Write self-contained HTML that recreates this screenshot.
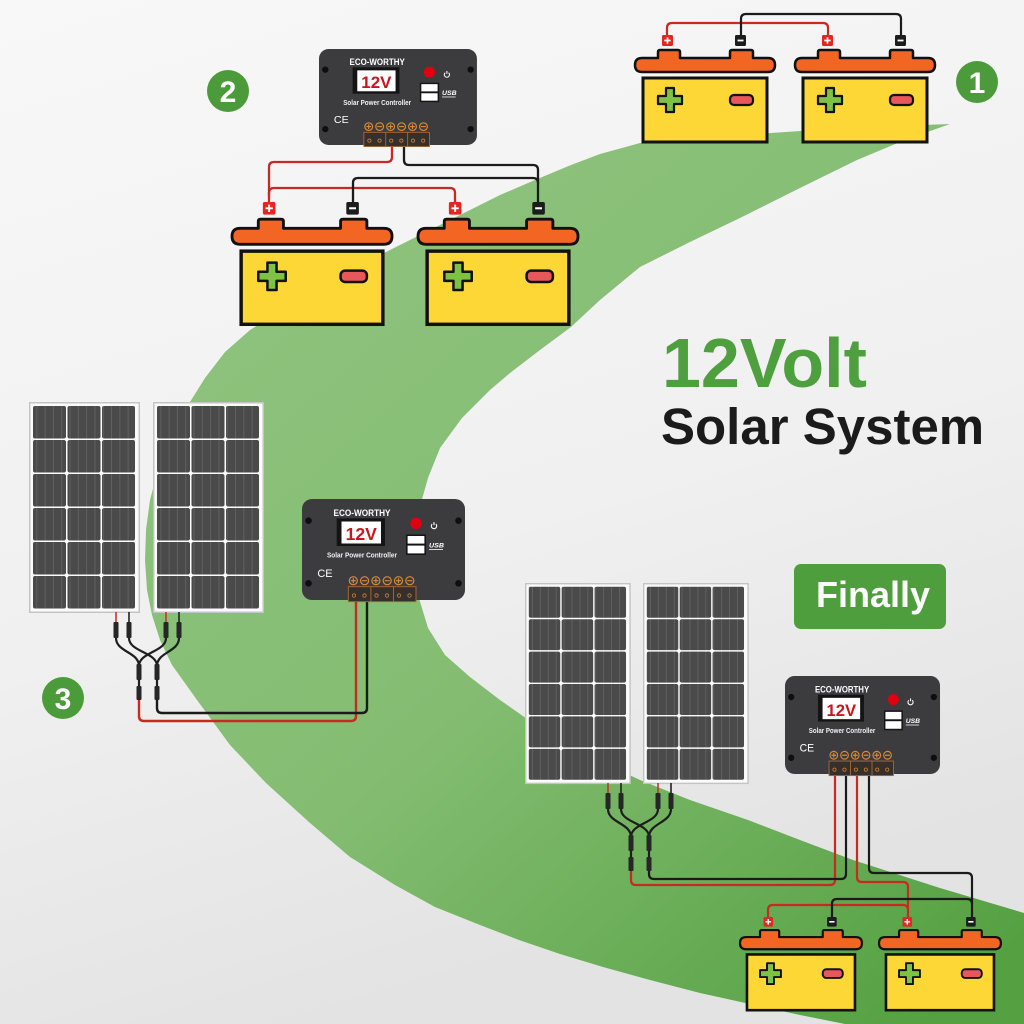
<!DOCTYPE html>
<html><head><meta charset="utf-8"><style>
html,body{margin:0;padding:0;width:1024px;height:1024px;overflow:hidden;background:#f2f2f2}
svg{display:block}
text{font-family:"Liberation Sans",Arial,sans-serif}
</style></head><body>
<svg width="1024" height="1024" viewBox="0 0 1024 1024" xmlns="http://www.w3.org/2000/svg">
<defs>
<linearGradient id="bg" x1="0" y1="0" x2="0.3" y2="1">
<stop offset="0" stop-color="#f8f8f8"/><stop offset="0.6" stop-color="#f0f0f0"/><stop offset="1" stop-color="#e3e3e3"/>
</linearGradient>
<linearGradient id="gr" gradientUnits="userSpaceOnUse" x1="300" y1="250" x2="950" y2="1000">
<stop offset="0" stop-color="#8dc27c"/><stop offset="0.45" stop-color="#84bd72"/><stop offset="1" stop-color="#55a142"/>
</linearGradient>
<pattern id="cellp" patternUnits="userSpaceOnUse" width="8.3" height="10">
<rect width="8.3" height="10" fill="#4a4a4a"/><rect x="7.4" width="0.9" height="10" fill="#626262"/>
</pattern>
<g id="bat">
<rect x="27" y="0" width="11" height="11" rx="1.5" fill="#e42521"/>
<path d="M32.5,2.3v6.4M29.3,5.5h6.4" stroke="#fff" stroke-width="1.7"/>
<rect x="100" y="0" width="11" height="11" rx="1.5" fill="#1c1c1c"/>
<path d="M102.5,5.5h6" stroke="#fff" stroke-width="1.8"/>
<path d="M7,23 L23,23 L23,17 Q23,15 25,15 L43,15 Q45,15 45,17 L45,23 L95,23 L95,17 Q95,15 97,15 L116,15 Q118,15 118,17 L118,23 L133,23 Q140,23 140,30 Q140,37 133,37 L7,37 Q0,37 0,30 Q0,23 7,23 Z" fill="#f26522" stroke="#111" stroke-width="2.5" stroke-linejoin="round"/>
<rect x="8" y="43" width="124" height="64" fill="#fcd735" stroke="#111" stroke-width="3"/>
<path d="M31,53 h8 v8 h8 v8 h-8 v8 h-8 v-8 h-8 v-8 h8 z" fill="#7dc243" stroke="#111" stroke-width="2.2" stroke-linejoin="round"/>
<rect x="95" y="60" width="23" height="10" rx="4" fill="#e8585a" stroke="#111" stroke-width="2.2"/>
</g>
<g id="panel">
<rect x="0.75" y="0.75" width="109.5" height="209.5" fill="#fbfbfb" stroke="#c4c4c4" stroke-width="1.5"/>
<g fill="url(#cellp)">
<rect x="4" y="4" width="33" height="32.5" rx="2"/><rect x="38.5" y="4" width="33" height="32.5" rx="2"/><rect x="73" y="4" width="33" height="32.5" rx="2"/>
<rect x="4" y="38" width="33" height="32.5" rx="2"/><rect x="38.5" y="38" width="33" height="32.5" rx="2"/><rect x="73" y="38" width="33" height="32.5" rx="2"/>
<rect x="4" y="72" width="33" height="32.5" rx="2"/><rect x="38.5" y="72" width="33" height="32.5" rx="2"/><rect x="73" y="72" width="33" height="32.5" rx="2"/>
<rect x="4" y="106" width="33" height="32.5" rx="2"/><rect x="38.5" y="106" width="33" height="32.5" rx="2"/><rect x="73" y="106" width="33" height="32.5" rx="2"/>
<rect x="4" y="140" width="33" height="32.5" rx="2"/><rect x="38.5" y="140" width="33" height="32.5" rx="2"/><rect x="73" y="140" width="33" height="32.5" rx="2"/>
<rect x="4" y="174" width="33" height="32.5" rx="2"/><rect x="38.5" y="174" width="33" height="32.5" rx="2"/><rect x="73" y="174" width="33" height="32.5" rx="2"/>
</g>
<g fill="#fff">
<circle cx="37.75" cy="37.25" r="1.9"/><circle cx="72.25" cy="37.25" r="1.9"/>
<circle cx="37.75" cy="71.25" r="1.9"/><circle cx="72.25" cy="71.25" r="1.9"/>
<circle cx="37.75" cy="105.25" r="1.9"/><circle cx="72.25" cy="105.25" r="1.9"/>
<circle cx="37.75" cy="139.25" r="1.9"/><circle cx="72.25" cy="139.25" r="1.9"/>
<circle cx="37.75" cy="173.25" r="1.9"/><circle cx="72.25" cy="173.25" r="1.9"/>
</g>
</g>
<g id="cabL">
<path d="M116,612V623M166,612V623" stroke="#c0392b" stroke-width="1.6"/>
<path d="M129,612V623M179,612V623" stroke="#222" stroke-width="1.6"/>
<g fill="#262626">
<rect x="113.5" y="622" width="5" height="16" rx="1"/><rect x="126.5" y="622" width="5" height="16" rx="1"/>
<rect x="163.5" y="622" width="5" height="16" rx="1"/><rect x="176.5" y="622" width="5" height="16" rx="1"/>
</g>
<g fill="none" stroke="#1e1e1e" stroke-width="2.2">
<path d="M116,638 C116,652 139,652 139,666"/>
<path d="M166,638 C166,652 139,652 139,666"/>
<path d="M129,638 C129,652 157,652 157,666"/>
<path d="M179,638 C179,652 157,652 157,666"/>
<path d="M139,678V688M157,678V688"/>
</g>
<g fill="#262626">
<rect x="136.5" y="664" width="5" height="16" rx="1"/><rect x="154.5" y="664" width="5" height="16" rx="1"/>
<rect x="136.5" y="686" width="5" height="14" rx="1"/><rect x="154.5" y="686" width="5" height="14" rx="1"/>
</g>
</g>
</defs>

<rect width="1024" height="1024" fill="url(#bg)"/>

<polygon fill="url(#gr)" points="950,124 870,127 800,131 700,138 640,143 600,154 571,165 535,180 500,195 440,225 404,243 370,260 340,278 285,308 250,330 225,352 205,378 185,410 170,440 158,470 150,500 146,530 145,560 147,590 152,615 160,640 172,665 197,700 230,745 266,783 310,823 350,857 395,885 435,907 480,925 519,940 560,954 603,967 650,980 700,993 750,1004 800,1015 845,1024 1024,1024 1024,913 940,888 853,860 800,840 748,820 690,800 640,780 580,752 533,723 500,700 470,677 445,655 428,628 418,595 415,555 419,510 428,478 440,448 462,418 490,390 510,373 540,350 571,327 600,300 640,267 690,242 740,218 800,188 857,160 905,140 950,124"/>

<!-- number circles -->
<circle cx="977" cy="82" r="21" fill="#4c9b3a"/>
<text x="977" y="93" font-size="30" font-weight="bold" fill="#fff" text-anchor="middle">1</text>
<circle cx="228" cy="91" r="21" fill="#4c9b3a"/>
<text x="228" y="102" font-size="30" font-weight="bold" fill="#fff" text-anchor="middle">2</text>
<circle cx="63" cy="698" r="21" fill="#4c9b3a"/>
<text x="63" y="709" font-size="30" font-weight="bold" fill="#fff" text-anchor="middle">3</text>

<!-- title -->
<text x="662" y="387" font-size="70" font-weight="bold" fill="#4e9f3d">12Volt</text>
<text x="661" y="444" font-size="51" font-weight="bold" fill="#1b1b1b">Solar System</text>

<!-- Finally -->
<rect x="794" y="564" width="152" height="65" rx="7" fill="#4e9e3d"/>
<text x="873" y="607" font-size="36" font-weight="bold" fill="#fff" text-anchor="middle">Finally</text>

<!-- set 1 wires -->
<g fill="none" stroke-width="2.2">
<path d="M667,36 L667,28 Q667,23 672,23 L823,23 Q828,23 828,28 L828,36" stroke="#c62a20"/>
<path d="M741,36 L741,19 Q741,14 746,14 L896,14 Q901,14 901,19 L901,36" stroke="#1b1b1b"/>
</g>
<use href="#bat" transform="translate(635,35)"/>
<use href="#bat" transform="translate(795,35)"/>

<!-- set 2 wires -->
<g fill="none" stroke-width="2.3">
<path d="M392,140 L392,157 Q392,162 387,162 L274,162 Q269,162 269,167 L269,205" stroke="#c62a20"/>
<path d="M269,196 L269,193 Q269,188 274,188 L450,188 Q455,188 455,193 L455,205" stroke="#c62a20"/>
<path d="M404,140 L404,160 Q404,165 409,165 L533,165 Q538,165 538,170 L538,205" stroke="#1b1b1b"/>
<path d="M353,205 L353,183 Q353,178 358,178 L533,178 Q538,178 538,183" stroke="#1b1b1b"/>
</g>
<use href="#bat" transform="translate(232,202) scale(1.143)"/>
<use href="#bat" transform="translate(418,202) scale(1.143)"/>

<!-- top controller -->
<g transform="translate(319,49) scale(0.969,0.95)">
<rect width="163" height="101" rx="10" fill="#3c3c3e"/>
<g fill="#0e0e0e"><circle cx="6.5" cy="21.7" r="3.3"/><circle cx="156.5" cy="21.7" r="3.3"/><circle cx="6.5" cy="84.3" r="3.3"/><circle cx="156.5" cy="84.3" r="3.3"/></g>
<text x="60" y="17" font-size="9.3" font-weight="bold" fill="#fff" text-anchor="middle" textLength="57" lengthAdjust="spacingAndGlyphs">ECO-WORTHY</text>
<rect x="34.7" y="19.3" width="48.3" height="27.7" fill="#141414"/>
<rect x="39.5" y="22.5" width="39.5" height="22" fill="#fff"/>
<text x="59.2" y="41" font-size="17.5" font-weight="bold" fill="#c8161d" text-anchor="middle">12V</text>
<text x="60" y="58.7" font-size="7.3" font-weight="bold" fill="#f0f0f0" text-anchor="middle" textLength="70" lengthAdjust="spacingAndGlyphs">Solar Power Controller</text>
<circle cx="114" cy="24.3" r="5.7" fill="#e10010"/>
<path d="M130.2,25 A2.7,2.7 0 1 0 133.8,25" fill="none" stroke="#fff" stroke-width="1.1"/><path d="M132,23.1v3" stroke="#fff" stroke-width="1.1"/>
<rect x="104" y="35.5" width="20" height="20.5" fill="#151515"/><rect x="105.6" y="37" width="16.8" height="7.6" fill="#fff"/><rect x="105.6" y="46.6" width="16.8" height="7.8" fill="#fff"/>
<text x="127" y="48.5" font-size="6.5" font-weight="bold" font-style="italic" fill="#fff" textLength="15" lengthAdjust="spacingAndGlyphs">USB</text>
<path d="M127,50.5h14" stroke="#fff" stroke-width="0.8"/>
<text x="23" y="78" font-size="11" fill="#fff" text-anchor="middle">CE</text>
<g fill="none" stroke="#d68a3c" stroke-width="1.2">
<circle cx="51.3" cy="81.7" r="4"/><circle cx="62.6" cy="81.7" r="4"/><circle cx="73.9" cy="81.7" r="4"/><circle cx="85.2" cy="81.7" r="4"/><circle cx="96.5" cy="81.7" r="4"/><circle cx="107.8" cy="81.7" r="4"/>
<path d="M48.8,81.7h5M51.3,79.2v5M60.1,81.7h5M71.4,81.7h5M73.9,79.2v5M82.7,81.7h5M94,81.7h5M96.5,79.2v5M105.3,81.7h5"/>
</g>
<rect x="46.3" y="87.7" width="67.7" height="15" fill="#35302c" stroke="#b06a35" stroke-width="0.9"/>
<path d="M68.9,87.7v15M91.5,87.7v15" stroke="#b06a35" stroke-width="0.9"/>
<g fill="none" stroke="#c98242" stroke-width="0.8"><circle cx="52" cy="96.5" r="1.7"/><circle cx="62.5" cy="96.5" r="1.7"/><circle cx="74.5" cy="96.5" r="1.7"/><circle cx="85" cy="96.5" r="1.7"/><circle cx="97" cy="96.5" r="1.7"/><circle cx="107.5" cy="96.5" r="1.7"/></g>
</g>

<!-- left panels -->
<use href="#panel" transform="translate(29,402)"/>
<use href="#panel" transform="translate(153,402)"/>
<use href="#cabL"/>
<g fill="none" stroke-width="2.4">
<path d="M139,700 L139,716 Q139,721 144,721 L351,721 Q356,721 356,716 L356,598" stroke="#c62a20"/>
<path d="M157,700 L157,708 Q157,713 162,713 L362,713 Q367,713 367,708 L367,598" stroke="#1b1b1b"/>
</g>

<!-- middle controller -->
<g transform="translate(302,499)">
<rect width="163" height="101" rx="10" fill="#3c3c3e"/>
<g fill="#0e0e0e"><circle cx="6.5" cy="21.7" r="3.3"/><circle cx="156.5" cy="21.7" r="3.3"/><circle cx="6.5" cy="84.3" r="3.3"/><circle cx="156.5" cy="84.3" r="3.3"/></g>
<text x="60" y="17" font-size="9.3" font-weight="bold" fill="#fff" text-anchor="middle" textLength="57" lengthAdjust="spacingAndGlyphs">ECO-WORTHY</text>
<rect x="34.7" y="19.3" width="48.3" height="27.7" fill="#141414"/>
<rect x="39.5" y="22.5" width="39.5" height="22" fill="#fff"/>
<text x="59.2" y="41" font-size="17.5" font-weight="bold" fill="#c8161d" text-anchor="middle">12V</text>
<text x="60" y="58.7" font-size="7.3" font-weight="bold" fill="#f0f0f0" text-anchor="middle" textLength="70" lengthAdjust="spacingAndGlyphs">Solar Power Controller</text>
<circle cx="114" cy="24.3" r="5.7" fill="#e10010"/>
<path d="M130.2,25 A2.7,2.7 0 1 0 133.8,25" fill="none" stroke="#fff" stroke-width="1.1"/><path d="M132,23.1v3" stroke="#fff" stroke-width="1.1"/>
<rect x="104" y="35.5" width="20" height="20.5" fill="#151515"/><rect x="105.6" y="37" width="16.8" height="7.6" fill="#fff"/><rect x="105.6" y="46.6" width="16.8" height="7.8" fill="#fff"/>
<text x="127" y="48.5" font-size="6.5" font-weight="bold" font-style="italic" fill="#fff" textLength="15" lengthAdjust="spacingAndGlyphs">USB</text>
<path d="M127,50.5h14" stroke="#fff" stroke-width="0.8"/>
<text x="23" y="78" font-size="11" fill="#fff" text-anchor="middle">CE</text>
<g fill="none" stroke="#d68a3c" stroke-width="1.2">
<circle cx="51.3" cy="81.7" r="4"/><circle cx="62.6" cy="81.7" r="4"/><circle cx="73.9" cy="81.7" r="4"/><circle cx="85.2" cy="81.7" r="4"/><circle cx="96.5" cy="81.7" r="4"/><circle cx="107.8" cy="81.7" r="4"/>
<path d="M48.8,81.7h5M51.3,79.2v5M60.1,81.7h5M71.4,81.7h5M73.9,79.2v5M82.7,81.7h5M94,81.7h5M96.5,79.2v5M105.3,81.7h5"/>
</g>
<rect x="46.3" y="87.7" width="67.7" height="15" fill="#35302c" stroke="#b06a35" stroke-width="0.9"/>
<path d="M68.9,87.7v15M91.5,87.7v15" stroke="#b06a35" stroke-width="0.9"/>
<g fill="none" stroke="#c98242" stroke-width="0.8"><circle cx="52" cy="96.5" r="1.7"/><circle cx="62.5" cy="96.5" r="1.7"/><circle cx="74.5" cy="96.5" r="1.7"/><circle cx="85" cy="96.5" r="1.7"/><circle cx="97" cy="96.5" r="1.7"/><circle cx="107.5" cy="96.5" r="1.7"/></g>
</g>

<!-- bottom right panels -->
<use href="#panel" transform="translate(525,583) scale(0.953)"/>
<use href="#panel" transform="translate(643,583) scale(0.953)"/>
<use href="#cabL" transform="translate(492,171)"/>

<!-- bottom right wires -->
<g fill="none" stroke-width="2.2">
<path d="M631,871 L631,880 Q631,885 636,885 L830,885 Q835,885 835,880 L835,772" stroke="#c62a20"/>
<path d="M649,871 L649,874 Q649,879 654,879 L841,879 Q846,879 846,874 L846,772" stroke="#1b1b1b"/>
<path d="M857,772 L857,877 Q857,882 862,882 L903,882 Q908,882 908,887 L908,918" stroke="#c62a20"/>
<path d="M869,772 L869,868 Q869,873 874,873 L967,873 Q972,873 972,878 L972,918" stroke="#1b1b1b"/>
<path d="M768,918 L768,910 Q768,905 773,905 L903,905 Q908,905 908,910" stroke="#c62a20"/>
<path d="M832,918 L832,904 Q832,899 837,899 L967,899 Q972,899 972,904" stroke="#1b1b1b"/>
</g>

<!-- bottom right controller -->
<g transform="translate(785,676) scale(0.951,0.97)">
<rect width="163" height="101" rx="10" fill="#3c3c3e"/>
<g fill="#0e0e0e"><circle cx="6.5" cy="21.7" r="3.3"/><circle cx="156.5" cy="21.7" r="3.3"/><circle cx="6.5" cy="84.3" r="3.3"/><circle cx="156.5" cy="84.3" r="3.3"/></g>
<text x="60" y="17" font-size="9.3" font-weight="bold" fill="#fff" text-anchor="middle" textLength="57" lengthAdjust="spacingAndGlyphs">ECO-WORTHY</text>
<rect x="34.7" y="19.3" width="48.3" height="27.7" fill="#141414"/>
<rect x="39.5" y="22.5" width="39.5" height="22" fill="#fff"/>
<text x="59.2" y="41" font-size="17.5" font-weight="bold" fill="#c8161d" text-anchor="middle">12V</text>
<text x="60" y="58.7" font-size="7.3" font-weight="bold" fill="#f0f0f0" text-anchor="middle" textLength="70" lengthAdjust="spacingAndGlyphs">Solar Power Controller</text>
<circle cx="114" cy="24.3" r="5.7" fill="#e10010"/>
<path d="M130.2,25 A2.7,2.7 0 1 0 133.8,25" fill="none" stroke="#fff" stroke-width="1.1"/><path d="M132,23.1v3" stroke="#fff" stroke-width="1.1"/>
<rect x="104" y="35.5" width="20" height="20.5" fill="#151515"/><rect x="105.6" y="37" width="16.8" height="7.6" fill="#fff"/><rect x="105.6" y="46.6" width="16.8" height="7.8" fill="#fff"/>
<text x="127" y="48.5" font-size="6.5" font-weight="bold" font-style="italic" fill="#fff" textLength="15" lengthAdjust="spacingAndGlyphs">USB</text>
<path d="M127,50.5h14" stroke="#fff" stroke-width="0.8"/>
<text x="23" y="78" font-size="11" fill="#fff" text-anchor="middle">CE</text>
<g fill="none" stroke="#d68a3c" stroke-width="1.2">
<circle cx="51.3" cy="81.7" r="4"/><circle cx="62.6" cy="81.7" r="4"/><circle cx="73.9" cy="81.7" r="4"/><circle cx="85.2" cy="81.7" r="4"/><circle cx="96.5" cy="81.7" r="4"/><circle cx="107.8" cy="81.7" r="4"/>
<path d="M48.8,81.7h5M51.3,79.2v5M60.1,81.7h5M71.4,81.7h5M73.9,79.2v5M82.7,81.7h5M94,81.7h5M96.5,79.2v5M105.3,81.7h5"/>
</g>
<rect x="46.3" y="87.7" width="67.7" height="15" fill="#35302c" stroke="#b06a35" stroke-width="0.9"/>
<path d="M68.9,87.7v15M91.5,87.7v15" stroke="#b06a35" stroke-width="0.9"/>
<g fill="none" stroke="#c98242" stroke-width="0.8"><circle cx="52" cy="96.5" r="1.7"/><circle cx="62.5" cy="96.5" r="1.7"/><circle cx="74.5" cy="96.5" r="1.7"/><circle cx="85" cy="96.5" r="1.7"/><circle cx="97" cy="96.5" r="1.7"/><circle cx="107.5" cy="96.5" r="1.7"/></g>
</g>

<use href="#bat" transform="translate(740,917) scale(0.871)"/>
<use href="#bat" transform="translate(879,917) scale(0.871)"/>
</svg>
</body></html>
